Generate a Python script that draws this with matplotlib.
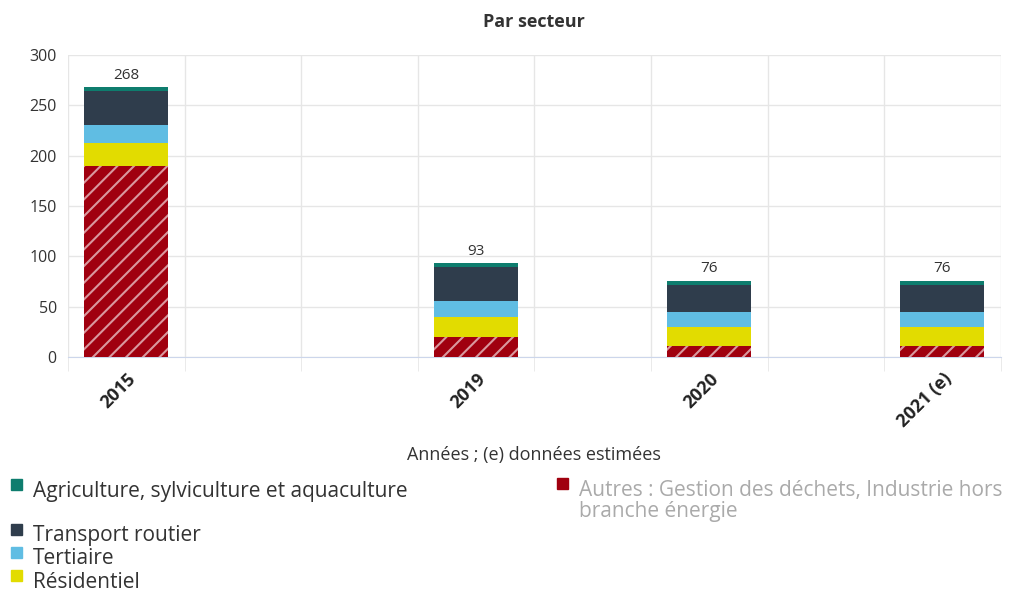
import matplotlib
matplotlib.use('Agg')
import matplotlib.pyplot as plt
import matplotlib.patches as mpatches
import numpy as np

plt.rcParams['font.family'] = ['Open Sans', 'DejaVu Sans']
plt.rcParams['hatch.linewidth'] = 1.5

years = ['2015', '2019', '2020', '2021 (e)']
slots = [0.5, 3.5, 5.5, 7.5]   # bar positions on the 8-slot axis

# stacked from bottom to top
autres = [190, 20, 11, 11]
residentiel = [23, 20, 19, 19]
tertiaire = [18, 15.5, 15, 15]
transport = [33.5, 34, 27, 27]
agriculture = [3.5, 3.5, 4, 4]
totals = [268, 93, 76, 76]

series = [
    ('Autres : Gestion des déchets, Industrie hors\nbranche énergie', autres, '#a0000f'),
    ('Résidentiel', residentiel, '#e2dc00'),
    ('Tertiaire', tertiaire, '#60bde3'),
    ('Transport routier', transport, '#2f3d4c'),
    ('Agriculture, sylviculture et aquaculture', agriculture, '#0e7d6e'),
]

fig = plt.figure(figsize=(10.33, 5.93), dpi=100)
ax = fig.add_axes([0.0658, 0.398, 0.903, 0.509])

bottom = np.zeros(len(years))
for name, vals, col in series:
    if col == '#a0000f':
        ax.bar(slots, vals, 0.72, bottom=bottom, color=col, hatch='//',
               edgecolor=(1, 1, 1, 0.6), linewidth=0, zorder=3)
    else:
        ax.bar(slots, vals, 0.72, bottom=bottom, color=col, linewidth=0, zorder=3)
    bottom += np.array(vals)

for x, t in zip(slots, totals):
    ax.text(x, t + 4, str(t), ha='center', va='bottom', fontsize=11, color='#333333')

ax.set_xlim(0, 8)
ax.set_ylim(0, 300)
ax.set_yticks(range(0, 301, 50))
ax.set_xticks(slots)
ax.set_xticklabels(years, rotation=45, ha='right', rotation_mode='anchor',
                   fontsize=13, fontweight='bold', color='#222222')
ax.set_xticks(range(0, 9), minor=True)
ax.tick_params(axis='x', which='major', length=0, pad=9)
ax.tick_params(axis='x', which='minor', length=10, color='#e6e6e6')
ax.tick_params(axis='y', length=0, labelsize=11.5, labelcolor='#333333', pad=8)
ax.grid(True, which='minor', axis='x', color='#e6e6e6', lw=1, zorder=0)
ax.grid(True, which='major', axis='y', color='#e6e6e6', lw=1, zorder=0)
for s in ['left', 'right', 'top']:
    ax.spines[s].set_visible(False)
ax.spines['bottom'].set_color('#ccd6eb')
ax.set_axisbelow(True)

ax.set_title('Par secteur', fontsize=13, fontweight='bold', color='#333333', pad=20)
fig.text(0.517, 1 - 455 / 593, 'Années ; (e) données estimées', ha='center', va='center',
         fontsize=13, color='#333333')

# legend laid out by hand: (square x, text centre y, text colour)
legend_pos = {
    'Agriculture, sylviculture et aquaculture': (17, 491, '#333333'),
    'Transport routier': (17, 536, '#333333'),
    'Tertiaire': (17, 559, '#333333'),
    'Résidentiel': (17, 582, '#333333'),
    'Autres : Gestion des déchets, Industrie hors\nbranche énergie': (563, 501, '#aaaaaa'),
}
W, H = 1033, 593
for name, vals, col in series:
    px, py, tc = legend_pos[name]
    sq_top = py - 12 if '\n' not in name else py - 23
    fig.patches.append(mpatches.Rectangle(((px - 6) / W, 1 - (sq_top + 11) / H), 11 / W, 11 / H,
                                          transform=fig.transFigure, color=col))
    fig.text((px + 16) / W, 1 - py / H, name, ha='left', va='center',
             fontsize=15, color=tc, linespacing=0.95)

plt.savefig('out.png', dpi=100)
